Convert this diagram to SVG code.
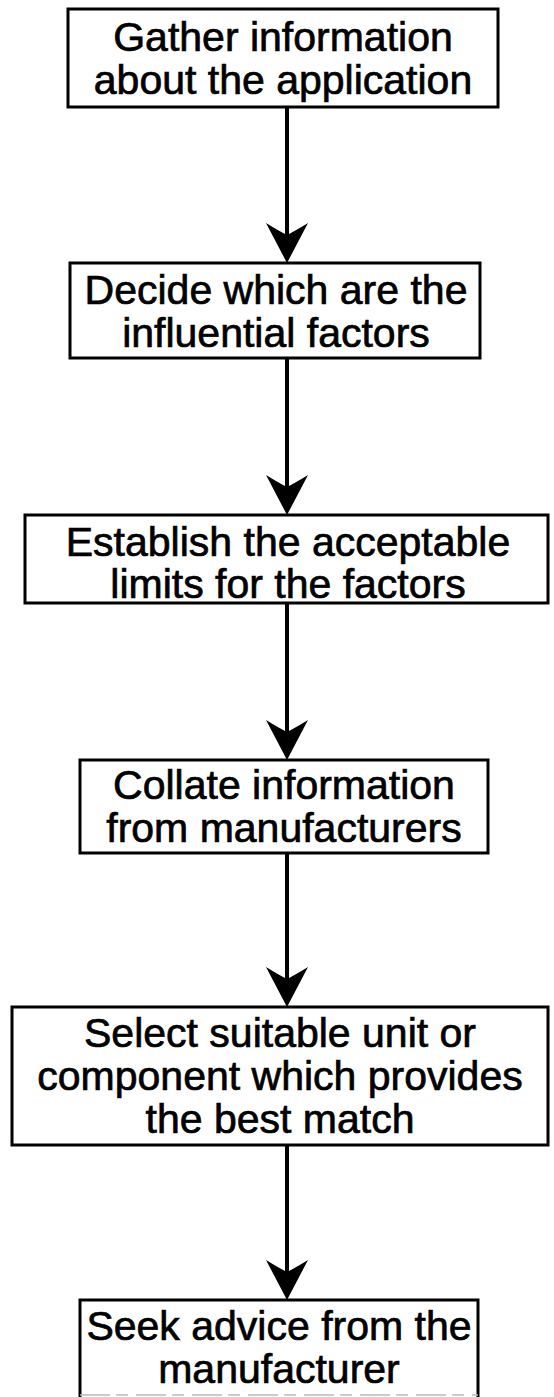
<svg xmlns="http://www.w3.org/2000/svg" width="554" height="1397" viewBox="0 0 554 1397">
  <style>
    .box { fill: #ffffff; stroke: #000000; stroke-width: 3; }
    .label { font-family: "Liberation Sans", Arial, Helvetica, sans-serif; font-size: 41px; fill: #000000; stroke: #000000; stroke-width: 0.7; text-anchor: middle; }
    .flow { stroke: #000000; stroke-width: 4; fill: none; marker-end: url(#head); }
  </style>
  <defs>
    <!-- barbed arrowhead; tip sits 26px beyond the end of the line -->
    <marker id="head" markerUnits="userSpaceOnUse" viewBox="-2 -23 44 46" refX="14" refY="0" markerWidth="44" markerHeight="46" orient="auto">
      <path d="M40,0 L0,-21 Q8,-8 12,0 Q8,8 0,21 Z" fill="#000000"/>
    </marker>
  </defs>
  <rect width="554" height="1397" fill="#ffffff"/>

  <g id="connectors">
    <line class="flow" x1="287" y1="107" x2="287" y2="237"/>
    <line class="flow" x1="287" y1="358" x2="287" y2="489"/>
    <line class="flow" x1="287" y1="603" x2="287" y2="734"/>
    <line class="flow" x1="287" y1="853" x2="287" y2="981"/>
    <line class="flow" x1="287" y1="1145" x2="287" y2="1274"/>
  </g>

  <g id="gather">
    <rect class="box" x="68" y="9" width="430" height="98"/>
    <text class="label" x="283" y="51">Gather information</text>
    <text class="label" x="283" y="93.5">about the application</text>
  </g>

  <g id="decide">
    <rect class="box" x="70" y="263" width="410" height="95"/>
    <text class="label" x="276" y="304">Decide which are the</text>
    <text class="label" x="276" y="346.5">influential factors</text>
  </g>

  <g id="establish">
    <rect class="box" x="25" y="515" width="523" height="88"/>
    <text class="label" x="288" y="555.5">Establish the acceptable</text>
    <text class="label" x="288" y="598">limits for the factors</text>
  </g>

  <g id="collate">
    <rect class="box" x="80" y="760" width="408" height="93"/>
    <text class="label" x="284" y="799">Collate information</text>
    <text class="label" x="284" y="841.5">from manufacturers</text>
  </g>

  <g id="select">
    <rect class="box" x="12" y="1007" width="536" height="138"/>
    <text class="label" x="280" y="1047">Select suitable unit or</text>
    <text class="label" x="280" y="1090">component which provides</text>
    <text class="label" x="280" y="1133">the best match</text>
  </g>

  <g id="seek">
    <path d="M80,1397 V1300 H478 V1397" fill="#ffffff" stroke="#000000" stroke-width="3"/>
    <line x1="80" y1="1395" x2="478" y2="1395" stroke="#bbbbbb" stroke-width="1.5" stroke-dasharray="30 6 12 8"/>
    <text class="label" x="279" y="1340">Seek advice from the</text>
    <text class="label" x="279" y="1382.5">manufacturer</text>
  </g>
</svg>
